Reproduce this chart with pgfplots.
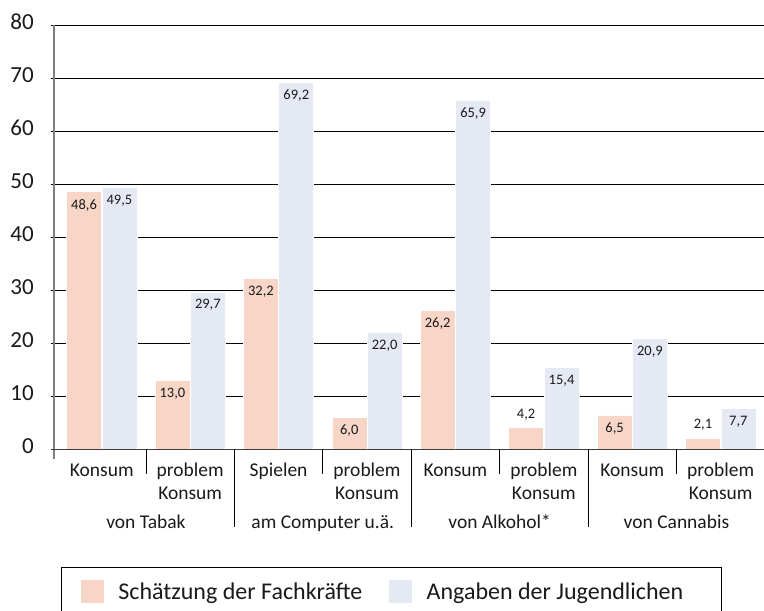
\documentclass[border=0pt]{standalone}
\usepackage{fontspec}
\setmainfont{Carlito}
\usepackage{pgfplots}
\usepackage{pgfplotstable}
\pgfplotsset{compat=1.18}
\definecolor{cpink}{HTML}{F8D6C7}
\definecolor{cblue}{HTML}{E4E9F4}
\definecolor{txt}{HTML}{1A1A1A}
\pgfplotstableread{
x v dy
0 48.6 -13.3
1 13.0 -13.3
2 32.2 -13.3
3 6.0 -13.3
4 26.2 -13.3
5 4.2 12
6 6.5 -13.3
7 2.1 13
}\pinkdata
\pgfplotstableread{
x v dy
0 49.5 -13.3
1 29.7 -13.3
2 69.2 -13.3
3 22.0 -13.3
4 65.9 -13.3
5 15.4 -13.3
6 20.9 -13.3
7 7.7 -13.3
}\bluedata
\pgfplotsset{base/.style={
  width=710bp, height=424bp, scale only axis,
  xmin=-0.54, xmax=7.49, ymin=0, ymax=80,
  axis line style={draw=none}, clip=false}}
\begin{document}
\begin{tikzpicture}
% background axis: grid only
\begin{axis}[base,
  ytick={0,10,...,80}, yticklabels={},
  xtick=\empty,
  ymajorgrids, grid style={black, line width=0.9bp},
  ytick pos=left, tick align=outside, major tick length=3bp,
  ytick style={black, line width=0.9bp},
]
\end{axis}
% foreground axis: bars and labels
\begin{axis}[base,
  ytick={0,10,...,80},
  ytick pos=left, tick align=outside, major tick length=3bp,
  ytick style={draw=none},
  xtick={0,...,7}, xtick style={draw=none}, xtick pos=bottom,
  xticklabels={Konsum,{problem\\Konsum},Spielen,{problem\\Konsum},Konsum,{problem\\Konsum},Konsum,{problem\\Konsum}},
  typeset ticklabels with strut,
  xticklabel style={align=center, anchor=north, inner sep=0pt, yshift=-8bp, font=\fontsize{19.5bp}{22.7bp}\selectfont, text=txt},
  yticklabel style={anchor=east, inner sep=0pt, xshift=-17bp, yshift=1bp, font=\fontsize{23bp}{27bp}\selectfont, text=txt},
  /pgf/number format/assume math mode=true,
  ybar, bar width=35bp,
  nodes near coords={\pgfmathprintnumber[fixed,fixed zerofill,precision=1,use comma]{\pgfplotspointmeta}},
  visualization depends on={\thisrow{dy} \as \dy},
  every node near coord/.append style={anchor=center, yshift=\dy*1bp, font=\fontsize{14.5bp}{17bp}\selectfont, text=txt},
  legend columns=2,
  legend style={at={(0.00944,-0.2769)}, anchor=north west, draw=black, line width=0.8bp,
    inner xsep=20bp, inner ysep=13.3bp, font=\fontsize{24bp}{28bp}\selectfont, text=txt,
    nodes={inner sep=0pt, text height=15.5bp, text depth=0bp},
    /tikz/every odd column/.append style={column sep=14.6bp},
    /tikz/every even column/.append style={column sep=27bp}},
  sq legend/.style={legend image code/.code={\path[##1, draw=none] (0bp,-11.35bp) rectangle (22.7bp,11.35bp);}},
]
\addplot[fill=cpink, draw=white, line width=0.6bp, bar shift=-17.7bp, sq legend] table[x=x, y=v] {\pinkdata};
\addlegendentry{Schätzung der Fachkräfte}
\addplot[fill=cblue, draw=white, line width=0.6bp, bar shift=17.7bp, sq legend] table[x=x, y=v] {\bluedata};
\addlegendentry{Angaben der Jugendlichen\hspace*{17.7bp}}
\draw[color={rgb,255:red,127;green,127;blue,127}, line width=1.5bp] (rel axis cs:0,1) -- ([yshift=-10bp]rel axis cs:0,0);
\draw[color={rgb,255:red,60;green,60;blue,60}, line width=1.2bp] ([xshift=-3bp]rel axis cs:0,0) -- (rel axis cs:1,0);
\draw[black, line width=0.9bp] (axis cs:0.5,0) -- ([yshift=-25bp]axis cs:0.5,0);
\draw[black, line width=0.9bp] (axis cs:2.5,0) -- ([yshift=-25bp]axis cs:2.5,0);
\draw[black, line width=0.9bp] (axis cs:4.5,0) -- ([yshift=-25bp]axis cs:4.5,0);
\draw[black, line width=0.9bp] (axis cs:6.5,0) -- ([yshift=-25bp]axis cs:6.5,0);
\draw[black, line width=0.9bp] (axis cs:1.5,0) -- ([yshift=-78bp]axis cs:1.5,0);
\draw[black, line width=0.9bp] (axis cs:3.5,0) -- ([yshift=-78bp]axis cs:3.5,0);
\draw[black, line width=0.9bp] (axis cs:5.5,0) -- ([yshift=-78bp]axis cs:5.5,0);
\node[anchor=base, font=\fontsize{19.5bp}{22.7bp}\selectfont, text=txt] at ([yshift=-78.7bp]axis cs:0.5,0) {von Tabak};
\node[anchor=base, font=\fontsize{19.5bp}{22.7bp}\selectfont, text=txt] at ([yshift=-78.7bp]axis cs:2.5,0) {am Computer u.ä.};
\node[anchor=base, font=\fontsize{19.5bp}{22.7bp}\selectfont, text=txt] at ([yshift=-78.7bp]axis cs:4.5,0) {von Alkohol*};
\node[anchor=base, font=\fontsize{19.5bp}{22.7bp}\selectfont, text=txt] at ([yshift=-78.7bp]axis cs:6.5,0) {von Cannabis};
\coordinate (bbsw) at ([xshift=-54bp, yshift=-161.7bp]rel axis cs:0,0);
\coordinate (bbne) at ([yshift=25.3bp]rel axis cs:1,1);
\end{axis}
\pgfresetboundingbox
\useasboundingbox (bbsw) rectangle (bbne);
\end{tikzpicture}
\end{document}
